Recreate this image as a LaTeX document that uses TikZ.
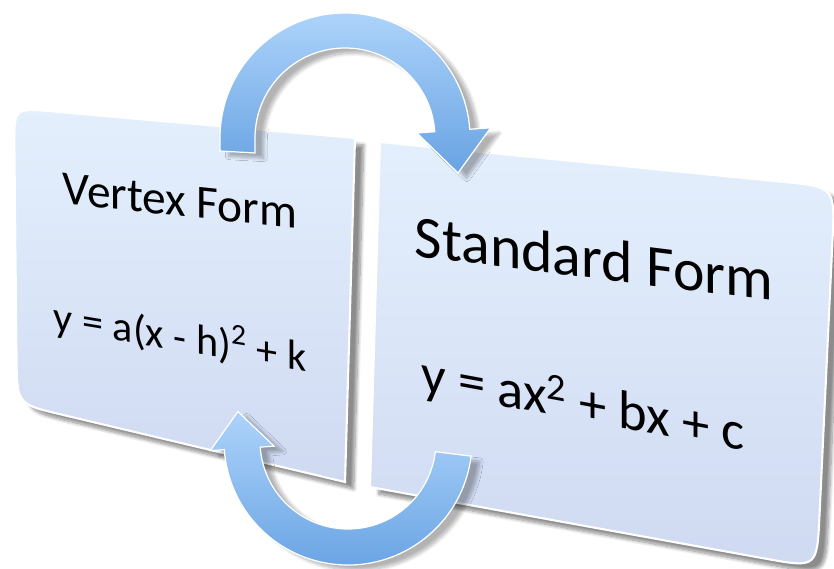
\documentclass[tikz,border=0pt]{standalone}
\usepackage{fontspec}
\setmainfont{Carlito}
\usepackage{xcolor}
\usetikzlibrary{calc,shadows.blur}

\definecolor{panelTop}{HTML}{E4EFFD}
\definecolor{panelBot}{HTML}{CFDAF2}
\definecolor{arrowLight}{HTML}{ADD3FA}
\definecolor{arrowDark}{HTML}{68A3E3}

\begin{document}
\begin{tikzpicture}[
  x=0.02cm, y=-0.02cm,
  panel/.style={draw=white, line width=1.2pt, top color=panelTop, bottom color=panelBot,
    blur shadow={shadow xshift=5pt, shadow yshift=-4pt, shadow blur steps=10, shadow opacity=45}},
  bigarrow/.style={draw=white, line width=0.7pt, top color=arrowLight, bottom color=arrowDark,
    blur shadow={shadow xshift=5pt, shadow yshift=-3pt, shadow blur steps=8, shadow opacity=30}},
  title/.style={inner sep=0pt, text=black},
  formula/.style={inner sep=0pt, text=black}
]
\useasboundingbox (0,0) rectangle (834,568);

% corners of the two panels
\coordinate (vtl) at (14,108);
\coordinate (vtr) at (355,138);
\coordinate (vbr) at (345,482);
\coordinate (vbl) at (17,404);
\coordinate (stl) at (380,142);
\coordinate (str) at (835,187);
\coordinate (sbr) at (817,568);
\coordinate (sbl) at (370,487);

\path[panel] (stl) -- ($(str)!30pt!(stl)$) .. controls (str) .. ($(str)!30pt!(sbr)$)
  -- ($(sbr)!30pt!(str)$) .. controls (sbr) .. ($(sbr)!30pt!(sbl)$) -- (sbl) -- cycle;
\path[panel] (vtr) -- ($(vtl)!22pt!(vtr)$) .. controls (vtl) .. ($(vtl)!22pt!(vbl)$)
  -- ($(vbl)!26pt!(vtl)$) .. controls (vbl) .. ($(vbl)!26pt!(vbr)$) -- (vbr) -- cycle;

\node[title, font=\fontsize{27}{30}\selectfont, yslant=-0.105] (vtitle) at (180,201) {Vertex Form};
\node[formula, font=\fontsize{24}{28}\selectfont, yslant=-0.167] (veq) at (180,337) {y = a(x - h)\textsuperscript{2} + k};
\node[title, font=\fontsize{34}{38}\selectfont, yslant=-0.125] (stitle) at (594,258) {Standard Form};
\node[formula, font=\fontsize{31}{36}\selectfont, yslant=-0.185] (seq) at (583,405) {y = ax\textsuperscript{2} + bx + c};

% turning arrows
\coordinate (topc) at (345,138);
\coordinate (botc) at (348,441);

\path[bigarrow] (220,151) -- ($(topc)+(180:125)$) arc[start angle=180, end angle=356, radius=125]
  -- ($(topc)+(356:146)$) -- (458,173) -- ($(topc)+(356:72)$) -- ($(topc)+(356:90)$)
  arc[start angle=356, end angle=180, radius=90] -- (255,153) -- cycle;

\path[bigarrow] ($(botc)+(7:124)$) arc[start angle=7, end angle=176, radius=124]
  -- ($(botc)+(176:138)$) -- ($(botc)+(195:114)$) -- ($(botc)+(176:74)$) -- ($(botc)+(176:88)$)
  arc[start angle=176, end angle=7, radius=88] -- cycle;
\end{tikzpicture}
\end{document}
